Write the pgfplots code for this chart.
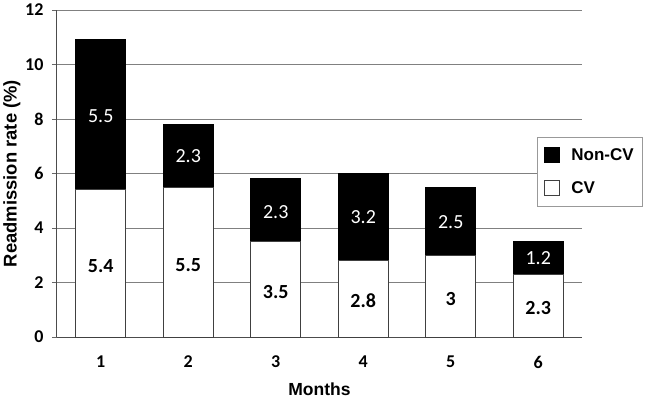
\documentclass[border=0pt]{standalone}
\usepackage{fontspec}
\setmainfont{Carlito}
\newfontfamily\legfont{Liberation Sans}
\usepackage{pgfplots}
\usepackage{pgfplotstable}
\pgfplotsset{compat=1.18}

% readmission rate by month, split in CV / non-CV
\pgfplotstableread{
month cv noncv
1 5.4 5.5
2 5.5 2.3
3 3.5 2.3
4 2.8 3.2
5 3.0 2.5
6 2.3 1.2
}\readm

% where the value labels sit (middle of each segment)
\pgfplotstableread{
month ycv labcv ynon labnon
1 2.6 5.4 8.1 5.5
2 2.65 5.5 6.65 2.3
3 1.65 3.5 4.6 2.3
4 1.35 2.8 4.4 3.2
5 1.4 3 4.2 2.5
6 1.05 2.3 2.9 1.2
}\labs

\begin{document}
\begin{tikzpicture}
  \path[use as bounding box] (0,0) rectangle (646pt,400pt);
  \begin{axis}[
      at={(57pt,63pt)}, anchor=south west,
      scale only axis, width=525pt, height=327pt,
      ybar stacked, bar width=50pt,
      xmin=0.5, xmax=6.5, ymin=0, ymax=12,
      xtick={1,2,3,4,5,6}, ytick={0,2,4,6,8,10,12},
      /pgf/number format/assume math mode=true,
      axis x line*=bottom, axis y line*=left,
      axis line style={draw=black!70, line width=1pt},
      ymajorgrids, grid style={draw=black!50, line width=1pt},
      major tick length=5pt, tick align=outside,
      x tick style={draw=none},
      y tick style={draw=black!60, line width=1pt},
      tick label style={font=\fontsize{18}{18}\selectfont\bfseries},
      xticklabel style={anchor=center, yshift=-20pt},
      yticklabel style={anchor=east, xshift=-5pt},
      xlabel={Months}, ylabel={Readmission rate (\%)},
      xlabel style={font=\legfont\bfseries\fontsize{17.5}{17.5}\selectfont,
        at={(axis description cs:0.5,0)}, anchor=center, yshift=-52pt},
      ylabel style={font=\legfont\bfseries\fontsize{18.4}{18.4}\selectfont,
        at={(axis description cs:-0.086,0.5)}, anchor=center},
      legend style={at={(axis description cs:0.914,0.612)}, anchor=north west,
        draw=black!40, line width=1pt, fill=white, font=\legfont\bfseries\fontsize{17}{17}\selectfont,
        inner xsep=7pt, inner ysep=9pt, row sep=16pt,
        /tikz/every odd column/.style={column sep=9pt}},
      legend cell align=left, reverse legend,
      legend image code/.code={\draw[#1] (0pt,-7.5pt) rectangle (15pt,7.5pt);},
    ]
    \addplot[fill=white, draw=black!75, line width=1pt] table[x=month, y=cv]{\readm};
    \addlegendentry{CV}
    \addplot[fill=black, draw=black, line width=1pt] table[x=month, y=noncv]{\readm};
    \addlegendentry{Non-CV}
  \end{axis}
  \begin{axis}[
      at={(57pt,63pt)}, anchor=south west,
      scale only axis, width=525pt, height=327pt,
      xmin=0.5, xmax=6.5, ymin=0, ymax=12, hide axis,
      nodes near coords, nodes near coords align=center,
      point meta=explicit symbolic,
    ]
    \addplot[only marks, mark=none,
      every node near coord/.append style={font=\fontsize{20}{20}\selectfont\bfseries, text=black}]
      table[x=month, y=ycv, meta=labcv]{\labs};
    \addplot[only marks, mark=none,
      every node near coord/.append style={font=\fontsize{20}{20}\selectfont, text=white}]
      table[x=month, y=ynon, meta=labnon]{\labs};
  \end{axis}
\end{tikzpicture}
\end{document}
